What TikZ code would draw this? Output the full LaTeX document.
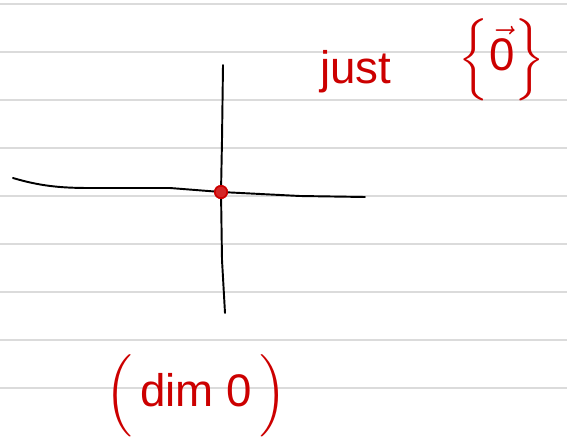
\documentclass[tikz,border=0pt]{standalone}
\usepackage{amsmath, amssymb}
\usepackage{fontspec}
\setsansfont{Liberation Sans}
\usepackage{tikz}
\usetikzlibrary{calc}
\usetikzlibrary{positioning}
\usepackage{xcolor}
\definecolor{pen}{rgb}{0.8,0,0}
\definecolor{rule}{rgb}{0.86,0.86,0.86}

\begin{document}
\begin{tikzpicture}[
		x=0.02cm, y=-0.02cm,
		ruling/.style = {draw=rule, line width=1.1pt},
		ax/.style = {draw=black, line width=1.1pt, line cap=round},
		ink/.style = {text=pen, font=\sffamily\fontsize{26}{30}\selectfont, inner sep=0pt},
		dot/.style = {circle, draw=pen, fill=pen!85, line width=0.9pt, minimum size=7pt, inner sep=0pt},
		]
		\useasboundingbox (0,0) rectangle (567,436);
		
		% === === Paper === ===
		\foreach \y in {4,52,100,148,196,244,292,340,388}
			\draw[ruling] (0,\y) -- (567,\y);
		
		% === === Axes === ===
		\coordinate (xl) at (13,178);
		\coordinate (xr) at (365,197);
		\coordinate (yt) at (223,65);
		\coordinate (yb) at (225,313);
		\node[dot] (o) at (221,192) {};
		
		\draw[ax] (xl) .. controls (40,186) and (60,188) .. (90,188)
			-- (170,188) -- (o.center) -- (300,196) -- (xr);
		\draw[ax] (yt) -- (222,140) -- (o.center) -- (222,260) -- (yb);
		\node[dot] at (o) {};
		
		% === === Labels === ===
		\node[ink, anchor=base west] (just) at (320,83) {just};
		\node[ink] (zero) at (502,60) {$\Bigl\{\vec{\textsf{0}}\Bigr\}$};
		\node[ink] (dim) at (196,396) {$\Bigl($\,dim 0\,$\Bigr)$};
		
	\end{tikzpicture}
\end{document}
